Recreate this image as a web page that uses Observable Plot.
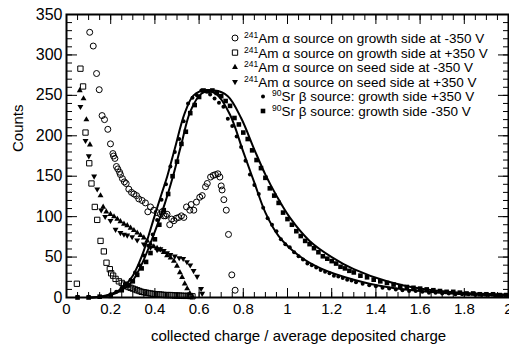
<!DOCTYPE html>
<html><head><meta charset="utf-8">
<script src="https://cdn.jsdelivr.net/npm/d3@7"></script>
<script src="https://cdn.jsdelivr.net/npm/@observablehq/plot@0.6"></script>
<style>
body{margin:0;background:#fff;}
#chart{width:509px;height:347px;overflow:hidden;}
</style></head><body><div id="chart"></div>
<script>
// ---- data ----
const amGrowthNeg = [[0.105,328],[0.121,311],[0.136,277],[0.148,257],[0.161,225],[0.172,220],[0.187,208],[0.199,190],[0.21,178],[0.213,175],[0.219,172],[0.226,162],[0.232,159],[0.24,155],[0.244,152],[0.253,147],[0.262,143],[0.27,141],[0.282,134],[0.294,130],[0.305,128],[0.317,126],[0.327,122],[0.342,120],[0.357,117],[0.368,106],[0.38,112],[0.395,108],[0.41,105],[0.425,103],[0.433,106],[0.44,101],[0.448,101],[0.455,103],[0.467,90],[0.476,97],[0.486,95],[0.497,98],[0.508,99],[0.52,101],[0.531,99],[0.543,112],[0.558,108],[0.564,115],[0.576,108],[0.588,118],[0.603,124],[0.614,126],[0.629,137],[0.637,141],[0.652,149],[0.664,151],[0.674,152],[0.685,153],[0.694,149],[0.7,138],[0.704,133],[0.712,121],[0.723,108],[0.733,78],[0.748,28],[0.763,9]];
const amGrowthPos = [[0.047,17],[0.063,283],[0.075,261],[0.086,204],[0.103,166],[0.113,141],[0.128,112],[0.139,96],[0.154,70],[0.169,57],[0.181,43],[0.196,35],[0.202,30],[0.211,27],[0.222,23],[0.237,20],[0.25,18],[0.26,16],[0.27,15],[0.28,13],[0.29,12],[0.3,11],[0.31,10],[0.32,9],[0.33,8],[0.34,7],[0.35,6.5],[0.36,6],[0.37,5.5],[0.38,5],[0.39,4.5],[0.40,4.2],[0.41,4],[0.42,3.8],[0.43,3.5],[0.44,3.2],[0.45,3],[0.46,3],[0.47,3],[0.48,2.8],[0.49,2.5],[0.50,2.5],[0.51,2.4],[0.52,2.2],[0.53,2],[0.54,2],[0.55,2],[0.56,1.8],[0.57,1.5]];
const amSeedNeg = [[0.06,256],[0.077,246],[0.09,220],[0.106,189],[0.154,126],[0.166,112],[0.18,106],[0.199,103],[0.215,100],[0.23,97],[0.244,94],[0.26,91],[0.275,89],[0.29,86],[0.305,83],[0.32,80],[0.335,77],[0.35,74],[0.365,70],[0.38,66],[0.395,63],[0.41,61],[0.425,59],[0.44,56],[0.455,52],[0.471,49],[0.486,45],[0.5,39],[0.513,31],[0.523,25],[0.535,17],[0.546,11],[0.558,5],[0.57,1]];
const amSeedPos = [[0.063,236],[0.086,194],[0.101,175],[0.125,150],[0.139,134],[0.157,108],[0.175,100],[0.199,95],[0.222,84],[0.244,80],[0.26,78],[0.275,77],[0.297,75],[0.32,71],[0.35,66],[0.38,62],[0.41,59],[0.425,60],[0.44,58],[0.455,55],[0.47,53],[0.49,51],[0.51,49],[0.528,48],[0.545,44],[0.56,40],[0.575,33],[0.591,26],[0.609,11],[0.614,5]];
const srGrowthPos = [[0.05,1],[0.1,1],[0.15,1],[0.2,4],[0.225,7],[0.25,12],[0.27,17],[0.29,22],[0.31,31],[0.33,40],[0.35,52],[0.37,64],[0.39,78],[0.41,96],[0.43,121],[0.45,140],[0.47,162],[0.49,180],[0.51,196],[0.53,218],[0.55,240],[0.57,247],[0.59,250],[0.61,256],[0.63,255],[0.65,251],[0.67,246],[0.69,241],[0.71,236],[0.73,221],[0.75,212],[0.77,199],[0.79,186],[0.81,169],[0.83,152],[0.85,139],[0.87,128],[0.89,111],[0.91,98],[0.93,90],[0.95,82],[0.97,72],[0.99,66],[1.01,62],[1.03,56],[1.05,51],[1.07,47],[1.09,42],[1.11,40],[1.13,37],[1.15,34],[1.17,32],[1.19,30],[1.21,27],[1.23,26],[1.25,24],[1.27,22],[1.29,21],[1.31,19],[1.34,17],[1.37,15],[1.4,14],[1.43,12],[1.46,11],[1.49,10],[1.52,9],[1.55,8],[1.58,8],[1.61,7],[1.64,6],[1.67,6],[1.7,5],[1.73,5],[1.76,4],[1.79,4],[1.82,4],[1.85,3],[1.88,3],[1.91,3],[1.94,2],[1.97,2],[2.0,2]];
const srGrowthNeg = [[0.05,0],[0.1,0],[0.15,1],[0.2,2],[0.25,9],[0.28,15],[0.3,20],[0.32,28],[0.34,36],[0.36,44],[0.38,55],[0.4,72],[0.42,90],[0.44,108],[0.46,128],[0.48,150],[0.5,168],[0.52,190],[0.54,205],[0.56,228],[0.58,238],[0.6,248],[0.62,256],[0.64,255],[0.66,256],[0.68,253],[0.70,249],[0.72,243],[0.74,237],[0.76,222],[0.78,214],[0.8,204],[0.82,196],[0.84,182],[0.86,170],[0.88,160],[0.9,148],[0.92,135],[0.94,126],[0.96,117],[0.98,105],[1.0,97],[1.02,90],[1.04,82],[1.06,76],[1.08,70],[1.1,66],[1.12,61],[1.14,56],[1.16,51],[1.18,48],[1.2,45],[1.22,42],[1.24,38],[1.26,36],[1.28,33],[1.3,31],[1.33,27],[1.36,25],[1.39,22],[1.42,20],[1.45,18],[1.48,16],[1.51,14],[1.54,13],[1.57,12],[1.6,11],[1.63,10],[1.66,9],[1.69,8],[1.72,7],[1.75,7],[1.78,6],[1.81,5],[1.84,5],[1.87,4],[1.9,4],[1.93,4],[1.96,3],[1.99,3]];
const fitGrowthPos = [[0.10,0],[0.15,1],[0.20,4],[0.25,11],[0.275,18],[0.30,27],[0.327,42],[0.35,58],[0.372,77],[0.40,102],[0.43,128],[0.456,150],[0.49,184],[0.535,228],[0.575,250],[0.625,256],[0.68,251],[0.74,226],[0.80,180],[0.85,142],[0.90,105],[0.96,76],[1.06,50],[1.15,36],[1.3,22],[1.45,13],[1.6,8],[1.75,5],[2.0,2.5]];
const fitGrowthNeg = [[0.10,0],[0.15,0.5],[0.20,3],[0.25,9],[0.30,21],[0.347,45],[0.395,78],[0.44,112],[0.48,148],[0.52,190],[0.56,230],[0.61,252],[0.67,256],[0.73,249],[0.79,222],[0.85,183],[0.90,152],[0.95,126],[1.01,99],[1.1,70],[1.2,50],[1.3,35],[1.45,20],[1.6,11],[1.75,6.6],[2.0,3.7]];

const xMajorTicks = [0,0.2,0.4,0.6,0.8,1,1.2,1.4,1.6,1.8,2];
const xTickLabels = ["0","0.2","0.4","0.6","0.8","1","1.2","1.4","1.6","1.8","2"];
const xMinorTicks = d3.range(0, 2.001, 0.05);
const yMajorTicks = [0,50,100,150,200,250,300,350];
const yTickLabels = ["0","50","100","150","200","250","300","350"];
const yMinorTicks = d3.range(0, 351, 10);
const xTitle = "collected charge / average deposited charge";
const yTitle = "Counts";
const legendIsotopes = ["241","241","241","241","90","90"];
const legendLabels = ["Am \u03b1 source on growth side at -350 V","Am \u03b1 source on growth side at +350 V","Am \u03b1 source on seed side at -350 V","Am \u03b1 source on seed side at +350 V","Sr \u03b2 source: growth side +350 V","Sr \u03b2 source: growth side -350 V"];

const font = "'Liberation Sans', Arial, Helvetica, sans-serif";
const P = d => ({x: d[0], y: d[1]});

const plot = Plot.plot({
  width: 509, height: 347,
  marginLeft: 66, marginRight: 1, marginTop: 14, marginBottom: 50,
  style: {fontFamily: font, fontSize: "15px", color: "#000", background: "#fff"},
  x: {domain: [0, 2], label: null},
  y: {domain: [0, 350], label: null},
  marks: [
    Plot.line(fitGrowthPos.map(P), {x: "x", y: "y", curve: "catmull-rom", stroke: "#000", strokeWidth: 2}),
    Plot.line(fitGrowthNeg.map(P), {x: "x", y: "y", curve: "catmull-rom", stroke: "#000", strokeWidth: 2}),
    Plot.dot(amGrowthNeg.map(P), {x: "x", y: "y", symbol: "circle", r: 3, fill: "none", stroke: "#000", strokeWidth: 1}),
    Plot.dot(amGrowthPos.map(P), {x: "x", y: "y", symbol: "square", r: 3, fill: "none", stroke: "#000", strokeWidth: 1}),
    Plot.dot(amSeedNeg.map(P), {x: "x", y: "y", symbol: "triangle", r: 2.2, fill: "#000", stroke: "none"}),
    Plot.dot(amSeedPos.map(P), {x: "x", y: "y", symbol: "triangle", r: 2.2, rotate: 180, fill: "#000", stroke: "none"}),
    Plot.dot(srGrowthPos.map(P), {x: "x", y: "y", symbol: "circle", r: 2, fill: "#000", stroke: "none"}),
    Plot.dot(srGrowthNeg.map(P), {x: "x", y: "y", symbol: "square", r: 2.6, fill: "#000", stroke: "none"}),
    Plot.axisX({anchor: "bottom", ticks: xMajorTicks, tickFormat: (d, i) => xTickLabels[i], tickSize: 0, tickPadding: 6, fontSize: 15}),
    Plot.axisX({anchor: "bottom", ticks: xMajorTicks, tickSize: -9, text: null}),
    Plot.axisX({anchor: "bottom", ticks: xMinorTicks, tickSize: -5, text: null}),
    Plot.axisX({anchor: "top", ticks: xMajorTicks, tickSize: -9, text: null}),
    Plot.axisX({anchor: "top", ticks: xMinorTicks, tickSize: -5, text: null}),
    Plot.axisY({anchor: "left", ticks: yMajorTicks, tickFormat: (d, i) => yTickLabels[i], tickSize: 0, tickPadding: 4, fontSize: 16}),
    Plot.axisY({anchor: "left", ticks: yMajorTicks, tickSize: -11, text: null}),
    Plot.axisY({anchor: "left", ticks: yMinorTicks, tickSize: -6, text: null}),
    Plot.axisY({anchor: "right", ticks: yMajorTicks, tickSize: -11, text: null}),
    Plot.axisY({anchor: "right", ticks: yMinorTicks, tickSize: -6, text: null}),
    Plot.frame({stroke: "#000", strokeWidth: 2}),
    Plot.text([xTitle], {text: d => d, frameAnchor: "bottom", dx: 11, dy: 43, fontSize: 15}),
    Plot.text([yTitle], {text: d => d, frameAnchor: "left", rotate: -90, dx: -48, dy: -4, fontSize: 15})
  ]
});
document.getElementById("chart").appendChild(plot);

// ---- legend (inside the frame, top right) ----
const svg = d3.select(plot);
const lg = svg.append("g").attr("font-family", font).attr("font-size", 13.5)
  .attr("fill", "#000").attr("text-anchor", "start");
const legendSymbols = [
  {type: d3.symbolCircle, r: 3, fill: "none", stroke: "#000", rot: 0},
  {type: d3.symbolSquare, r: 3, fill: "none", stroke: "#000", rot: 0},
  {type: d3.symbolTriangle, r: 2.2, fill: "#000", stroke: "none", rot: 0},
  {type: d3.symbolTriangle, r: 2.2, fill: "#000", stroke: "none", rot: 180},
  {type: d3.symbolCircle, r: 2, fill: "#000", stroke: "none", rot: 0},
  {type: d3.symbolSquare, r: 2.6, fill: "#000", stroke: "none", rot: 0}
];
legendLabels.forEach((lab, i) => {
  const cy = 38 + i * 14.6;
  const mx = i < 4 ? 235 : 263;
  const s = legendSymbols[i];
  lg.append("path")
    .attr("d", d3.symbol(s.type, s.r * s.r * Math.PI)())
    .attr("transform", `translate(${mx},${cy}) rotate(${s.rot})`)
    .attr("fill", s.fill).attr("stroke", s.stroke);
  const t = lg.append("text").attr("x", mx + 9).attr("y", cy + 5);
  t.append("tspan").attr("font-size", 8.5).attr("dy", -5).text(legendIsotopes[i]);
  t.append("tspan").attr("dy", 5).text(lab);
});
</script></body></html>
